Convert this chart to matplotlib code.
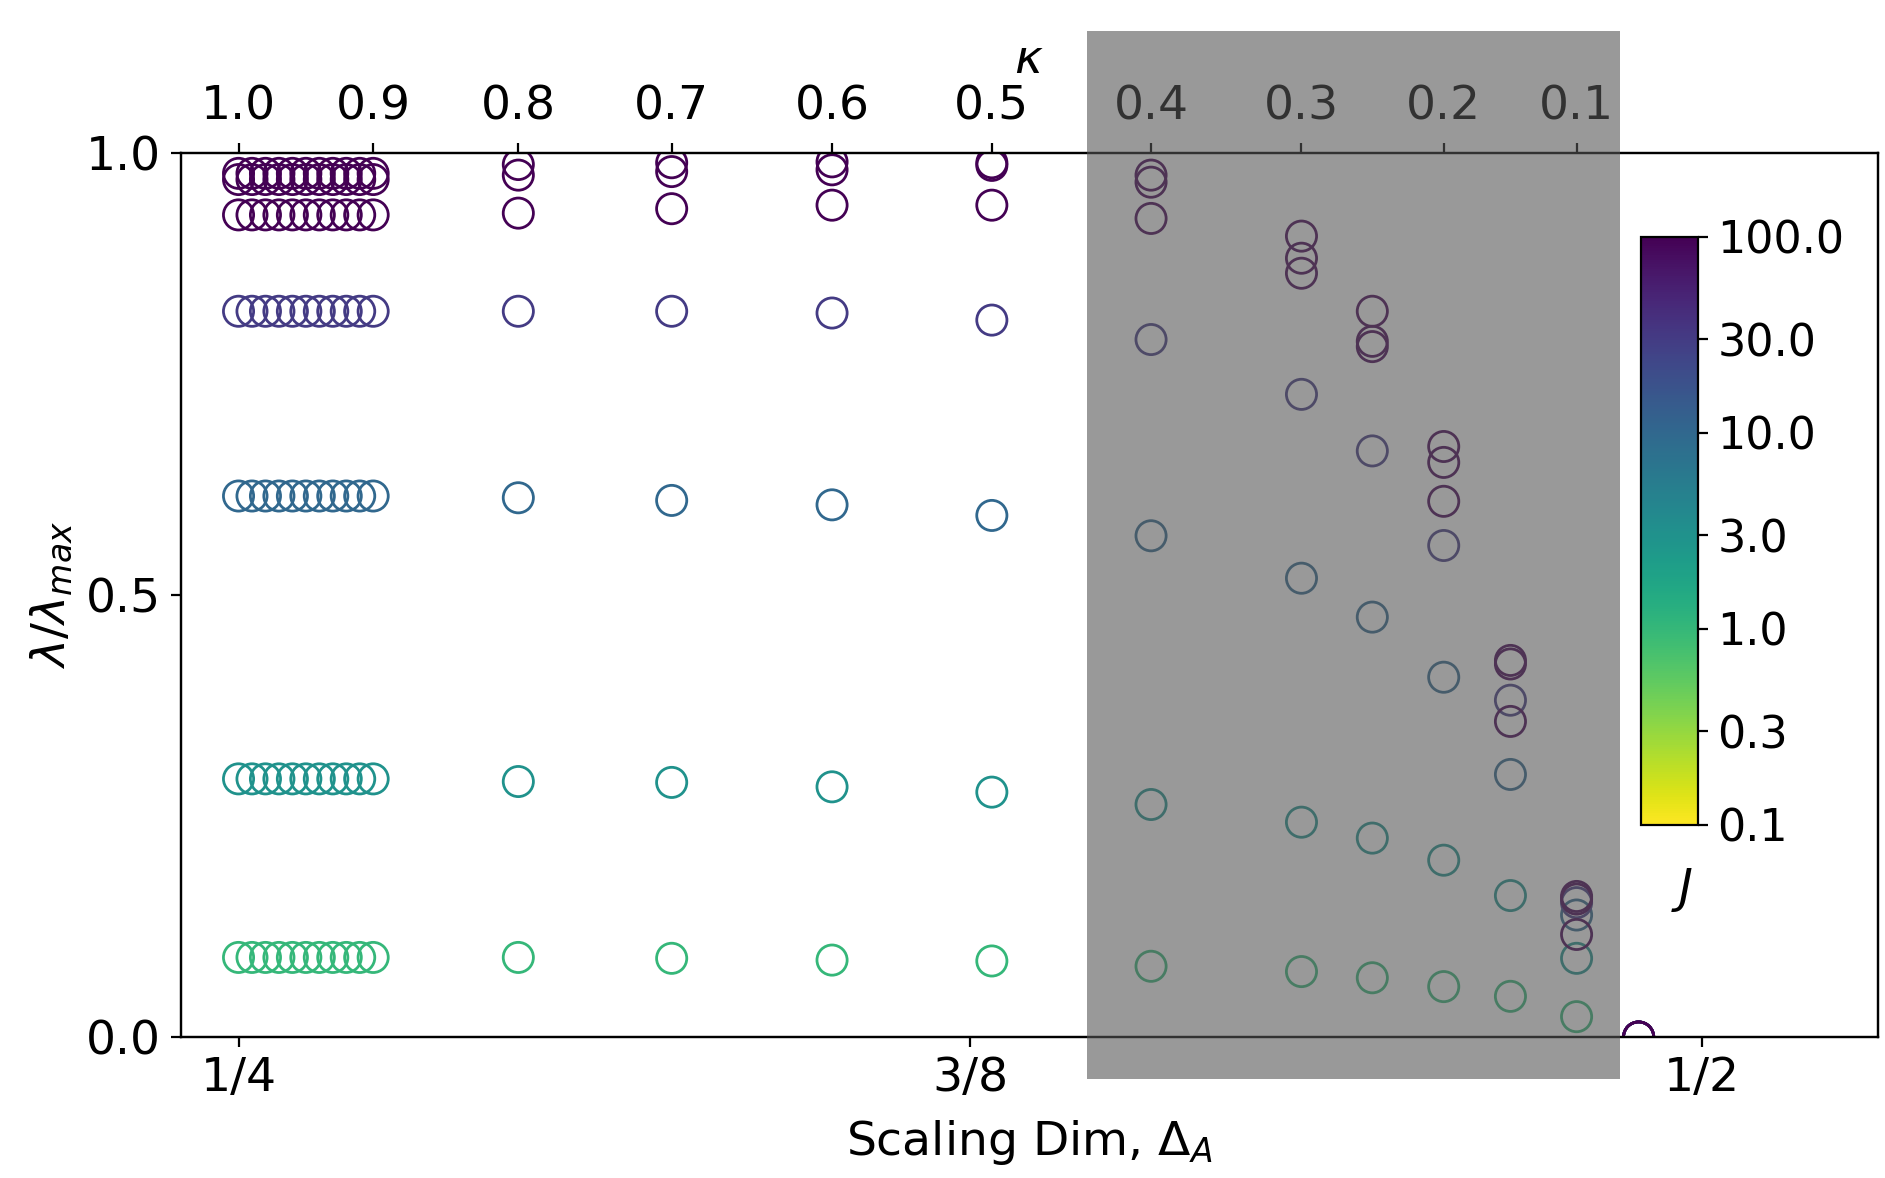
import matplotlib
matplotlib.use("Agg")

import matplotlib.pyplot as plt
from matplotlib.colors import LogNorm
from matplotlib.cm import ScalarMappable
from matplotlib.patches import Rectangle

plt.rcParams['font.size'] = 17

# columns: kappa value and its scaling dimension Delta_A
kappa = [1.00, 0.99, 0.98, 0.97, 0.96, 0.95, 0.94, 0.93, 0.92, 0.91, 0.90,
         0.8, 0.7, 0.6, 0.5, 0.4, 0.3, 0.25, 0.2, 0.15, 0.1, 0.05]
delta_A = [0.2500, 0.2523, 0.2546, 0.2569, 0.2592, 0.2615, 0.2638, 0.2661, 0.2684, 0.2707, 0.2730,
           0.2978, 0.3240, 0.3514, 0.3787, 0.4059, 0.4316, 0.4437, 0.4559, 0.4673, 0.4786, 0.4892]

# coupling values (colour)
J_values = [1, 3, 10, 30, 100, 300, 1000]

# lambda / lambda_max for each J, one entry per column
lam_J1 = [0.090, 0.090, 0.090, 0.090, 0.090, 0.090, 0.090, 0.090, 0.090, 0.090, 0.090,
          0.090, 0.089, 0.087, 0.086, 0.080, 0.074, 0.067, 0.057, 0.046, 0.023, 0.0]
lam_J3 = [0.292, 0.292, 0.292, 0.292, 0.292, 0.292, 0.292, 0.292, 0.292, 0.292, 0.292,
          0.289, 0.288, 0.283, 0.277, 0.263, 0.243, 0.225, 0.200, 0.160, 0.089, 0.0]
lam_J10 = [0.612, 0.612, 0.612, 0.612, 0.612, 0.612, 0.612, 0.612, 0.612, 0.612, 0.612,
           0.610, 0.607, 0.602, 0.590, 0.567, 0.519, 0.475, 0.407, 0.297, 0.138, 0.0]
lam_J30 = [0.821, 0.821, 0.821, 0.821, 0.821, 0.821, 0.821, 0.821, 0.821, 0.821, 0.821,
           0.821, 0.821, 0.819, 0.811, 0.789, 0.727, 0.663, 0.556, 0.381, 0.152, 0.0]
lam_J100 = [0.930, 0.930, 0.930, 0.930, 0.930, 0.930, 0.930, 0.930, 0.930, 0.930, 0.930,
            0.932, 0.937, 0.941, 0.941, 0.926, 0.864, 0.781, 0.606, 0.357, 0.116, 0.0]
lam_J300 = [0.970, 0.970, 0.970, 0.970, 0.970, 0.970, 0.970, 0.970, 0.970, 0.970, 0.970,
            0.975, 0.979, 0.981, 0.986, 0.967, 0.881, 0.787, 0.650, 0.422, 0.156, 0.0]
lam_J1000 = [0.977, 0.977, 0.977, 0.977, 0.977, 0.977, 0.977, 0.977, 0.977, 0.977, 0.977,
             0.987, 0.989, 0.990, 0.989, 0.975, 0.906, 0.821, 0.668, 0.426, 0.159, 0.0]
lam_all = [lam_J1, lam_J3, lam_J10, lam_J30, lam_J100, lam_J300, lam_J1000]

# top axis ticks
kappa_ticks = ['1.0', '0.9', '0.8', '0.7', '0.6', '0.5', '0.4', '0.3', '0.2', '0.1']
kappa_tick_pos = [0.2500, 0.2730, 0.2978, 0.3240, 0.3514, 0.3787, 0.4059, 0.4316, 0.4559, 0.4786]

# bottom axis ticks
delta_ticks = [0.25, 0.375, 0.5]
delta_tick_labels = ['1/4', '3/8', '1/2']

# shaded (unreliable) region
shade_x = (0.3949, 0.4860)
shade_y = (-0.047, 1.138)

cmap = plt.get_cmap('viridis_r')
norm = LogNorm(vmin=0.1, vmax=100)

fig = plt.figure(figsize=(9.425, 5.89))
ax = fig.add_axes([0.0958, 0.1197, 0.9005, 0.7504])

for J, lam in zip(J_values, lam_all):
    ax.scatter(delta_A, lam, s=118, facecolors='none',
               edgecolors=[cmap(norm(J))], linewidths=1.0)

ax.set_xlim(0.2401, 0.5301)
ax.set_ylim(0, 1)
ax.set_xticks(delta_ticks)
ax.set_xticklabels(delta_tick_labels)
ax.set_yticks([0.0, 0.5, 1.0])
ax.set_xlabel(r'Scaling Dim, $\Delta_A$', labelpad=6)
ax.set_ylabel(r'$\lambda/\lambda_{max}$')

ax2 = ax.twiny()
ax2.set_xlim(ax.get_xlim())
ax2.set_xticks(kappa_tick_pos)
ax2.set_xticklabels(kappa_ticks)
ax2.tick_params(axis='x', pad=5)
ax2.set_xlabel(r'$\kappa$', labelpad=4)

ax2.add_patch(Rectangle((shade_x[0], shade_y[0]), shade_x[1] - shade_x[0],
                        shade_y[1] - shade_y[0], facecolor='#555555', alpha=0.6,
                        edgecolor='none', clip_on=False, zorder=10))

cax = fig.add_axes([0.8706, 0.2997, 0.0302, 0.4992])
sm = ScalarMappable(norm=norm, cmap=cmap)
cbar = fig.colorbar(sm, cax=cax, ticks=[0.1, 0.3, 1, 3, 10, 30, 100])
cbar.ax.minorticks_off()
cbar.ax.set_yticklabels(['0.1', '0.3', '1.0', '3.0', '10.0', '30.0', '100.0'])
cbar.ax.tick_params(labelsize=16)
cbar.ax.set_xlabel(r'$J$')
cbar.ax.xaxis.set_label_coords(0.72, -0.07)

plt.savefig("out.png", dpi=200)
